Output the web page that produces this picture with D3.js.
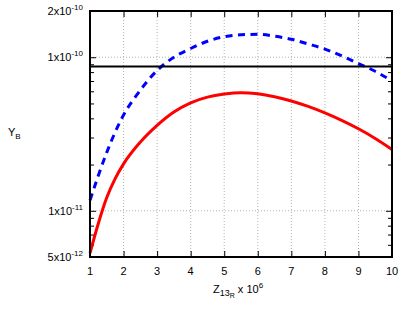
<!DOCTYPE html>
<html>
<head>
<meta charset="utf-8">
<script src="https://cdn.jsdelivr.net/npm/d3@7"></script>
<style>
  body { margin: 0; background: #fff; }
  text { font-family: "Liberation Sans", Arial, sans-serif; fill: #000; }
</style>
</head>
<body>
<div id="chart"></div>
<script>
// data
var xValues = [1, 1.25, 1.5, 1.75, 2, 2.5, 3, 3.5, 4, 4.5, 5, 5.5, 6, 6.5, 7, 7.5, 8, 8.5, 9, 9.5, 10];
var blueValues = [1.17e-11, 1.7e-11, 2.4e-11, 3.25e-11, 4.2e-11, 6.1e-11, 8.2e-11, 1.0e-10, 1.14e-10, 1.27e-10,
  1.36e-10, 1.40e-10, 1.41e-10, 1.37e-10, 1.31e-10, 1.22e-10, 1.13e-10, 1.02e-10, 9.1e-11, 8.1e-11, 7.0e-11];
var redValues = [5.3e-12, 8.3e-12, 1.22e-11, 1.62e-11, 2.02e-11, 2.8e-11, 3.6e-11, 4.4e-11, 5.05e-11, 5.5e-11,
  5.76e-11, 5.88e-11, 5.78e-11, 5.53e-11, 5.19e-11, 4.78e-11, 4.34e-11, 3.88e-11, 3.42e-11, 2.96e-11, 2.51e-11];
var limitValue = 8.7e-11;

var xTicks = [1, 2, 3, 4, 5, 6, 7, 8, 9, 10];
var xGrid = [2, 3, 4, 5, 6, 7, 8, 9];
var yMajor = [5e-12, 1e-11, 1e-10, 2e-10];
var yLabels = [["5", "-12"], ["1", "-11"], ["1", "-10"], ["2", "-10"]];
var yMinor = [6e-12, 7e-12, 8e-12, 9e-12, 2e-11, 3e-11, 4e-11, 5e-11, 6e-11, 7e-11, 8e-11, 9e-11];
var yGrid = [1e-11, 1e-10];

var svgWidth = 415;
var svgHeight = 310;
var margin = { top: 11, right: 23, bottom: 53, left: 90 };
var width = svgWidth - margin.left - margin.right;
var height = svgHeight - margin.top - margin.bottom;

var svg = d3.select("#chart")
  .append("svg")
  .attr("width", svgWidth)
  .attr("height", svgHeight);

var chartGroup = svg.append("g")
  .attr("transform", `translate(${margin.left}, ${margin.top})`);

var xScale = d3.scaleLinear().domain([1, 10]).range([0, width]);
var yScale = d3.scaleLog().domain([5e-12, 2e-10]).range([height, 0]);

// grid
chartGroup.append("g").selectAll("line")
  .data(xGrid)
  .enter()
  .append("line")
  .attr("x1", d => xScale(d)).attr("x2", d => xScale(d))
  .attr("y1", 0).attr("y2", height)
  .attr("stroke", "#a0a0a0")
  .attr("stroke-width", 0.8)
  .attr("stroke-dasharray", "1,2");

chartGroup.append("g").selectAll("line")
  .data(yGrid)
  .enter()
  .append("line")
  .attr("x1", 0).attr("x2", width)
  .attr("y1", d => yScale(d)).attr("y2", d => yScale(d))
  .attr("stroke", "#a0a0a0")
  .attr("stroke-width", 0.8)
  .attr("stroke-dasharray", "1,2");

// ticks pointing inward on all four sides
function styleAxis(g) {
  g.select(".domain").remove();
  g.selectAll(".tick line").attr("stroke", "#000").attr("stroke-width", 1);
  g.selectAll(".tick text").remove();
}

chartGroup.append("g")
  .attr("transform", `translate(0, ${height})`)
  .call(d3.axisBottom(xScale).tickValues(xTicks).tickSize(-6))
  .call(styleAxis);
chartGroup.append("g")
  .call(d3.axisTop(xScale).tickValues(xTicks).tickSize(-6))
  .call(styleAxis);
chartGroup.append("g")
  .call(d3.axisLeft(yScale).tickValues(yMajor).tickSize(-6))
  .call(styleAxis);
chartGroup.append("g")
  .call(d3.axisLeft(yScale).tickValues(yMinor).tickSize(-4))
  .call(styleAxis);
chartGroup.append("g")
  .attr("transform", `translate(${width}, 0)`)
  .call(d3.axisRight(yScale).tickValues(yMajor).tickSize(-6))
  .call(styleAxis);
chartGroup.append("g")
  .attr("transform", `translate(${width}, 0)`)
  .call(d3.axisRight(yScale).tickValues(yMinor).tickSize(-4))
  .call(styleAxis);

// curves
var line = d3.line()
  .x((d, i) => xScale(xValues[i]))
  .y(d => yScale(d))
  .curve(d3.curveMonotoneX);

chartGroup.append("path")
  .datum(blueValues)
  .attr("d", line)
  .attr("fill", "none")
  .attr("stroke", "#0000ff")
  .attr("stroke-width", 3)
  .attr("stroke-dasharray", "7,5.5");

chartGroup.append("path")
  .datum(redValues)
  .attr("d", line)
  .attr("fill", "none")
  .attr("stroke", "#ff0000")
  .attr("stroke-width", 3);

chartGroup.append("line")
  .attr("x1", xScale(1)).attr("x2", xScale(10))
  .attr("y1", yScale(limitValue)).attr("y2", yScale(limitValue))
  .attr("stroke", "#000")
  .attr("stroke-width", 2);

// frame
chartGroup.append("rect")
  .attr("width", width)
  .attr("height", height)
  .attr("fill", "none")
  .attr("stroke", "#000")
  .attr("stroke-width", 2);

// tick labels
chartGroup.append("g").selectAll("text")
  .data(xTicks)
  .enter()
  .append("text")
  .attr("x", d => xScale(d))
  .attr("y", height + 18)
  .attr("text-anchor", "middle")
  .attr("font-size", 11)
  .text(d => d);

var yLab = chartGroup.append("g").selectAll("text")
  .data(yMajor)
  .enter()
  .append("text")
  .attr("x", -7)
  .attr("y", d => yScale(d) + 4)
  .attr("text-anchor", "end")
  .attr("font-size", 11);
yLab.append("tspan").text((d, i) => yLabels[i][0] + "x10");
yLab.append("tspan").attr("dy", -5).attr("font-size", 8).text((d, i) => yLabels[i][1]);

// axis titles
var xTitle = svg.append("text")
  .attr("x", 213)
  .attr("y", 293)
  .attr("font-size", 11);
xTitle.append("tspan").text("Z");
xTitle.append("tspan").attr("dy", 3).attr("font-size", 9).text("13");
xTitle.append("tspan").attr("dy", 2).attr("font-size", 7).text("R");
xTitle.append("tspan").attr("dy", -5).text(" x 10");
xTitle.append("tspan").attr("dy", -5).attr("font-size", 8).text("6");

var yTitle = svg.append("text")
  .attr("x", 8)
  .attr("y", 136)
  .attr("font-size", 11);
yTitle.append("tspan").text("Y");
yTitle.append("tspan").attr("dy", 3).attr("font-size", 8).text("B");
</script>
</body>
</html>
